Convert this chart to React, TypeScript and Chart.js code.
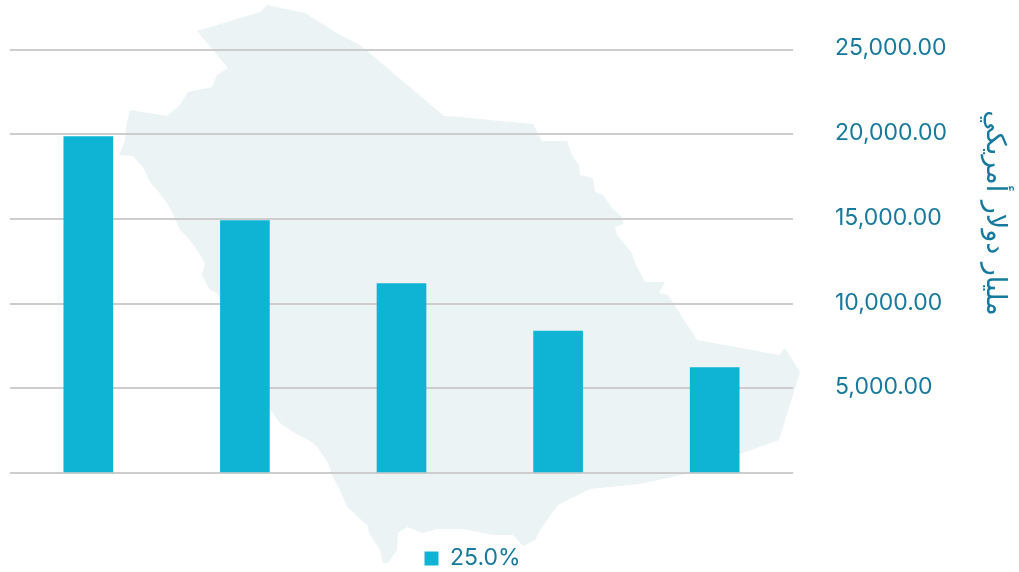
import React, { useEffect, useRef } from "react";
import { Chart, registerables } from "chart.js";

Chart.register(...registerables);

const categories = ["", "", "", "", ""];
const seriesName = "25.0%";
const seriesValues = [19860, 14900, 11185, 8380, 6230];
const axisTitle = "مليار دولار أمريكي";

// Decorative country silhouette behind the plot (canvas pixels), not a data mark.
const silhouette: [number, number][] = [
  [197,31],[260,12],[267,5],[305,13],[340,35],[360,45],[444,116],[460,117],[500,121],[533,124],[542,141],
  [567,141],[572,155],[579,165],[580,175],[593,178],[595,192],[603,195],[612,208],[623,218],
  [623,224],[615,227],[617,235],[632,253],[635,263],[645,282],[665,282],[659,293],[668,295],[697,340],
  [779,355],[785,348],[800,372],[779,440],[740,454],[690,473],[640,484],[590,489],[558,505],[542,527],
  [535,540],[523,546],[513,535],[493,535],[463,529],[437,529],[423,533],[407,527],[398,533],[397,550],
  [388,563],[383,563],[380,550],[369,533],[368,526],[347,507],[340,490],[332,475],[328,463],[318,448],
  [312,442],[293,432],[280,423],[270,409],[217,293],[210,290],[202,275],[205,263],[195,247],[188,238],
  [180,230],[172,212],[165,200],[157,190],[150,182],[143,167],[133,156],[119,155],[125,140],[126,127],
  [130,110],[167,116],[180,105],[188,92],[212,87],[217,75],[228,68],
];

const INK = "#17799b";
const BAR = "#0fb4d4";
const FONT = "Inter";

const backdrop = {
  id: "backdrop",
  beforeDraw(chart: any) {
    const { ctx } = chart;
    ctx.save();
    ctx.fillStyle = "#ebf3f5";
    ctx.beginPath();
    silhouette.forEach(([x, y], i) => (i ? ctx.lineTo(x, y) : ctx.moveTo(x, y)));
    ctx.closePath();
    ctx.fill();
    ctx.restore();
    // Legend sits off-centre and low in the reference.
    if (!chart.$legendShifted) {
      chart.legend.left -= 42;
      chart.legend.right -= 42;
      chart.legend.top += 11;
      chart.legend.bottom += 11;
      chart.$legendShifted = true;
    }
  },
  afterDraw(chart: any) {
    const { ctx } = chart;
    ctx.save();
    ctx.translate(994, 213);
    ctx.rotate(Math.PI / 2);
    ctx.fillStyle = INK;
    ctx.font = `27px "DejaVu Sans"`;
    ctx.textAlign = "center";
    ctx.textBaseline = "middle";
    ctx.direction = "rtl";
    ctx.fillText(axisTitle, 0, 0);
    ctx.restore();
  },
};

export default function App() {
  const ref = useRef<HTMLCanvasElement>(null);
  useEffect(() => {
    const chart = new Chart(ref.current!, {
      type: "bar",
      data: {
        labels: categories,
        datasets: [
          { label: seriesName, data: seriesValues, backgroundColor: BAR, barThickness: 49 },
        ],
      },
      plugins: [backdrop],
      options: {
        responsive: false,
        animation: false,
        layout: { padding: { left: 10, top: 49.5, right: 0, bottom: 3 } },
        plugins: {
          tooltip: { enabled: false },
          legend: {
            position: "bottom",
            labels: {
              boxWidth: 14,
              boxHeight: 14,
              padding: 10,
              color: INK,
              font: { family: FONT, size: 23 },
            },
          },
        },
        scales: {
          x: {
            grid: { display: false },
            border: { display: false },
            ticks: { display: false },
            afterFit(scale: any) {
              scale.height = 53;
            },
          },
          y: {
            position: "right",
            min: 0,
            max: 25000,
            grid: { color: "#cdcdcd", lineWidth: 2, drawTicks: false },
            border: { display: false },
            ticks: {
              stepSize: 5000,
              padding: 42,
              labelOffset: -1,
              color: INK,
              font: { family: FONT, size: 23 },
              callback: (v: any) =>
                v === 0
                  ? ""
                  : Number(v).toLocaleString("en-US", { minimumFractionDigits: 2, maximumFractionDigits: 2 }),
            },
            afterFit(scale: any) {
              scale.width = 226;
              scale.paddingTop = 0;
              scale.paddingBottom = 0;
            },
          },
        },
      },
    } as any);
    return () => chart.destroy();
  }, []);
  return (
    <div style={{ position: "absolute", left: 0, top: 0, width: 1019, height: 572, background: "#fff" }}>
      <canvas ref={ref} width={1019} height={572} style={{ display: "block" }} />
    </div>
  );
}
